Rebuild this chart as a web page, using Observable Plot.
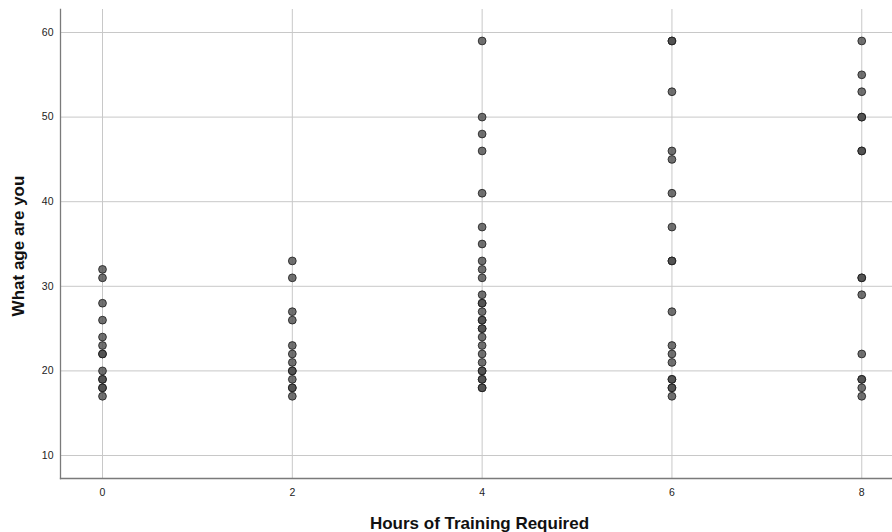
<!DOCTYPE html>
<html>
<head>
<meta charset="utf-8">
<script src="https://cdn.jsdelivr.net/npm/d3@7"></script>
<script src="https://cdn.jsdelivr.net/npm/@observablehq/plot@0.6"></script>
<style>
  html, body { margin: 0; padding: 0; background: #ffffff; }
  #chart svg { display: block; font-family: "Liberation Sans", Arial, sans-serif; }
</style>
</head>
<body>
<div id="chart"></div>
<script>
// Data (duplicates reflect darker, overlapping markers)
const hours = [0, 2, 4, 6, 8];
const ages0 = [32, 31, 28, 26, 24, 23, 22, 22, 20, 19, 19, 18, 18, 17];
const ages2 = [33, 31, 27, 26, 23, 22, 21, 20, 20, 19, 18, 18, 17];
const ages4 = [59, 50, 48, 46, 41, 37, 35, 33, 32, 31, 29, 28, 28, 27, 26, 26, 25, 25, 24, 23, 22, 21, 20, 20, 19, 19, 18, 18];
const ages6 = [59, 59, 53, 46, 45, 41, 37, 33, 33, 27, 23, 22, 21, 19, 19, 18, 18, 17];
const ages8 = [59, 55, 53, 50, 50, 46, 46, 31, 31, 29, 22, 19, 19, 18, 17];
const yTicks = [10, 20, 30, 40, 50, 60];
const xTicks = [0, 2, 4, 6, 8];
const xTitle = "Hours of Training Required";
const yTitle = "What age are you";

const series = [ages0, ages2, ages4, ages6, ages8];
const points = [];
hours.forEach((h, i) => series[i].forEach(a => points.push({hours: h, age: a})));

const chart = Plot.plot({
  width: 892,
  height: 532,
  marginLeft: 60,
  marginRight: 0,
  marginTop: 9,
  marginBottom: 54,
  style: {background: "#ffffff", fontFamily: "Liberation Sans, Arial, sans-serif"},
  x: {domain: [-0.4426, 8.324]},
  y: {domain: [7.28, 62.72]},
  marks: [
    Plot.gridY(yTicks, {stroke: "#c8c8c8", strokeOpacity: 1, strokeWidth: 1}),
    Plot.gridX(xTicks, {stroke: "#c8c8c8", strokeOpacity: 1, strokeWidth: 1}),
    Plot.axisY(yTicks, {tickSize: 0, tickPadding: 7, fontSize: 10.5, fill: "#222", label: null}),
    Plot.axisX(xTicks, {tickSize: 0, tickPadding: 10, fontSize: 10.5, fill: "#222", label: null}),
    Plot.frame({anchor: "left", stroke: "#7a7a7a", strokeWidth: 1.3}),
    Plot.frame({anchor: "bottom", stroke: "#7a7a7a", strokeWidth: 1.3}),
    Plot.dot(points, {x: "hours", y: "age", r: 3.9, fill: "#4d4d4d", fillOpacity: 0.8, stroke: "#1a1a1a", strokeOpacity: 0.8, strokeWidth: 1}),
    Plot.text([xTitle], {frameAnchor: "bottom", textAnchor: "middle", dx: 3, dy: 50, fontSize: 17, fontWeight: "bold", fill: "#111"}),
    Plot.text([yTitle], {frameAnchor: "left", textAnchor: "middle", dx: -42, dy: 2, rotate: -90, fontSize: 17, fontWeight: "bold", fill: "#111"})
  ]
});
document.getElementById("chart").appendChild(chart);
</script>
</body>
</html>
